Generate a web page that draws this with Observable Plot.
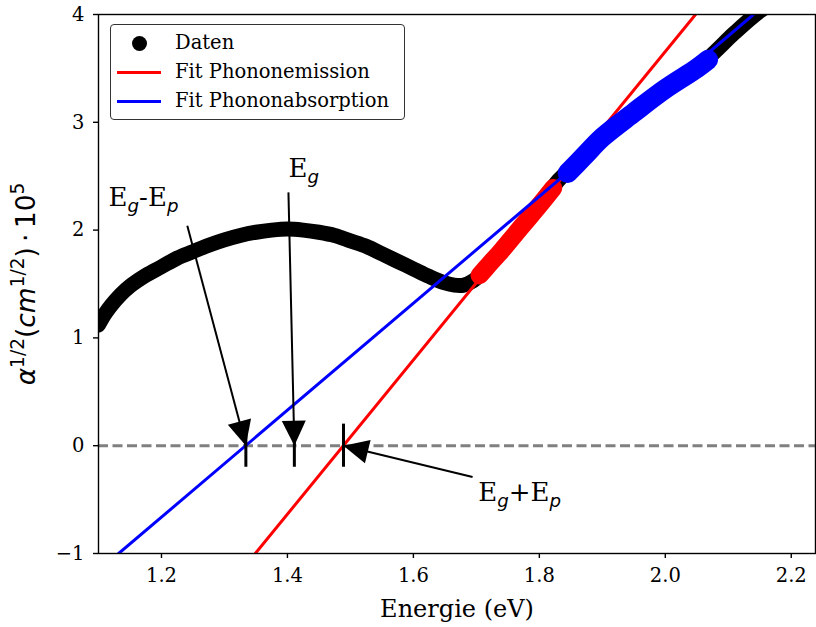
<!DOCTYPE html>
<html><head><meta charset="utf-8">
<script src="https://cdn.jsdelivr.net/npm/d3@7"></script>
<script src="https://cdn.jsdelivr.net/npm/@observablehq/plot@0.6"></script>
<style>
html,body{margin:0;padding:0;background:#fff;}
#wrap{position:relative;width:816px;height:627px;}
#legend{position:absolute;left:110px;top:24px;width:295px;height:96px;border:1.3px solid #333;border-radius:4px;background:rgba(255,255,255,0.85);box-sizing:border-box;font-family:"DejaVu Serif";font-size:19.5px;color:#000;}
#legend .row{position:absolute;left:0;height:28px;width:100%;}
#legend .sym{position:absolute;}
#legend .lab{position:absolute;left:64px;top:0;line-height:28px;white-space:nowrap;}
</style>
</head><body>
<div id="wrap"><div id="chart"></div><div id="legend"></div></div>
<script>
// ---- data ----
const energy = [1.100,1.110,1.120,1.135,1.150,1.175,1.200,1.225,1.250,1.275,1.300,1.325,1.350,1.375,1.400,1.425,1.450,1.475,1.500,1.525,1.550,1.575,1.600,1.625,1.650,1.665,1.680,1.695,1.710,1.730,1.750,1.770,1.790,1.810,1.830,1.860,1.900,1.950,2.000,2.050,2.080,2.110,2.150,2.180,2.240];
const sqrtAlpha = [1.12,1.22,1.30,1.40,1.48,1.58,1.66,1.74,1.80,1.86,1.91,1.95,1.98,2.00,2.01,2.00,1.98,1.95,1.90,1.85,1.78,1.71,1.64,1.57,1.51,1.49,1.49,1.53,1.61,1.75,1.88,2.02,2.16,2.30,2.46,2.63,2.86,3.09,3.31,3.50,3.66,3.83,4.03,4.14,4.34];
const emissionE = [1.705,1.720,1.740,1.760,1.780,1.800,1.822];
const emissionY = [1.58,1.68,1.81,1.95,2.09,2.23,2.39];
const absorptionE = [1.845,1.870,1.900,1.950,2.000,2.050,2.068];
const absorptionY = [2.53,2.68,2.86,3.09,3.31,3.50,3.58];
const fitEmissionE = [1.349, 2.048];
const fitEmissionY = [-1, 4];
const fitAbsorptionE = [1.132, 2.140];
const fitAbsorptionY = [-1, 4];
const markerE = [1.334, 1.411, 1.489];
const annLabels = ["E_g-E_p", "E_g", "E_g+E_p"];
const annTextE = [1.116, 1.4016, 1.703];
const annTextY = [2.30, 2.57, -0.44];
const annTailE = [1.241, 1.4016, 1.694];
const annTailY = [2.04, 2.35, -0.29];
const xTicks = [1.2, 1.4, 1.6, 1.8, 2.0, 2.2];
const yTicks = [-1, 0, 1, 2, 3, 4];
const xLabel = "Energie (eV)";
const yLabel = "α^{1/2}(cm^{1/2})\u2009·\u200910^{5}";
const legendLabels = ["Daten", "Fit Phononemission", "Fit Phononabsorption"];

// ---- layout ----
const W = 816, H = 627, mL = 98, mR = 1, mT = 14, mB = 74;
const xDomain = [1.1, 2.2385], yDomain = [-1, 4];
const xs = d3.scaleLinear(xDomain, [mL, W - mR]);
const ys = d3.scaleLinear(yDomain, [H - mB, mT]);

const table = (xa, ya) => xa.map((x, i) => ({x, y: ya[i]}));
const data = table(energy, sqrtAlpha);
const emis = table(emissionE, emissionY);
const abso = table(absorptionE, absorptionY);
const fitE = table(fitEmissionE, fitEmissionY);
const fitA = table(fitAbsorptionE, fitAbsorptionY);
const ann = annLabels.map((label, i) => {
  const dx = xs(markerE[i]) - xs(annTailE[i]);
  const dy = ys(0) - ys(annTailY[i]);
  return {label, tx: annTextE[i], ty: annTextY[i], x1: annTailE[i], y1: annTailY[i], x2: markerE[i], y2: 0,
          angle: Math.atan2(-dx, dy) * 180 / Math.PI};
});
const headSymbol = {draw(ctx) { ctx.moveTo(0, 0); ctx.lineTo(-12, -25); ctx.lineTo(12, -25); ctx.closePath(); }};

const plot = Plot.plot({
  width: W, height: H,
  marginLeft: mL, marginRight: mR, marginTop: mT, marginBottom: mB,
  style: {fontFamily: "DejaVu Serif", fontSize: "19.5px", color: "black", background: "white"},
  x: {domain: xDomain},
  y: {domain: yDomain},
  marks: [
    Plot.line(data, {x: "x", y: "y", stroke: "black", strokeWidth: 15, strokeLinecap: "round", strokeLinejoin: "round", curve: "catmull-rom", clip: true}),
    Plot.line(emis, {x: "x", y: "y", stroke: "#ff0000", strokeWidth: 18, strokeLinecap: "round", strokeLinejoin: "round", curve: "catmull-rom", clip: true}),
    Plot.ruleY([0], {stroke: "gray", strokeWidth: 3, strokeDasharray: "10,4.5"}),
    Plot.line(fitE, {x: "x", y: "y", stroke: "#ff0000", strokeWidth: 3, clip: true}),
    Plot.line(abso, {x: "x", y: "y", stroke: "#0000ff", strokeWidth: 20, strokeLinecap: "round", strokeLinejoin: "round", curve: "catmull-rom", clip: true}),
    Plot.line(fitA, {x: "x", y: "y", stroke: "#0000ff", strokeWidth: 3, clip: true}),
    Plot.ruleX(markerE, {y1: -0.2, y2: 0.2, stroke: "black", strokeWidth: 3}),
    Plot.link(ann, {x1: "x1", y1: "y1", x2: "x2", y2: "y2", stroke: "black", strokeWidth: 2}),
    Plot.dot(ann, {x: "x2", y: "y2", symbol: headSymbol, rotate: "angle", fill: "black", stroke: "none"}),
    Plot.text(ann, {x: "tx", y: "ty", text: "label", textAnchor: "start", fontSize: 26, fill: "black"}),
    Plot.frame({stroke: "black", strokeWidth: 1.4}),
    Plot.axisX({ticks: xTicks, tickFormat: d3.format(".1f"), tickSize: 5, tickPadding: 10, fontSize: 19.5,
      label: xLabel, labelAnchor: "center", labelOffset: 63, labelArrow: "none", strokeWidth: 1.4}),
    Plot.axisY({ticks: yTicks, tickFormat: d3.format("d"), tickSize: 5, tickPadding: 9, fontSize: 19.5,
      label: yLabel, labelAnchor: "center", labelOffset: 82, labelArrow: "none", strokeWidth: 1.4})
  ]
});
document.getElementById("chart").appendChild(plot);

// ---- rich text (sub/superscripts) ----
const NS = "http://www.w3.org/2000/svg";
function setRich(el, str, base, mathAll) {
  el.textContent = "";
  const re = /([_^])\{([^}]*)\}|([_^])(.)|([^_^]+)/g;
  let m, cur = 0;
  while ((m = re.exec(str))) {
    let kind, txt;
    if (m[1]) { kind = m[1]; txt = m[2]; } else if (m[3]) { kind = m[3]; txt = m[4]; } else { kind = ""; txt = m[5]; }
    let off = 0, size = base;
    if (kind === "_") { off = 0.22 * base; size = 0.7 * base; }
    if (kind === "^") { off = -0.42 * base; size = 0.7 * base; }
    const math = mathAll || kind !== "";
    const runs = txt.match(/[A-Za-zα-ω]+|[^A-Za-zα-ω]+/g) || [];
    runs.forEach((r, j) => {
      const ts = document.createElementNS(NS, "tspan");
      if (j === 0) { ts.setAttribute("dy", off - cur); }
      ts.setAttribute("font-size", size);
      if (math) {
        ts.setAttribute("font-family", "DejaVu Sans");
        if (/[A-Za-zα-ω]/.test(r)) ts.setAttribute("font-style", "italic");
      }
      ts.textContent = r;
      el.appendChild(ts);
    });
    cur = off;
  }
}
plot.querySelectorAll("text").forEach(t => {
  const s = t.textContent;
  if (annLabels.includes(s)) setRich(t, s, 26, false);
  if (s === yLabel) { t.setAttribute("font-family", "DejaVu Sans"); t.setAttribute("font-size", 26.5); setRich(t, s, 26.5, true); }
  if (s === xLabel) { t.setAttribute("font-size", 24); }
});

// ---- legend ----
const lg = document.getElementById("legend");
const rowsTop = [4, 33, 62];
legendLabels.forEach((lab, i) => {
  const row = document.createElement("div");
  row.className = "row"; row.style.top = rowsTop[i] + "px";
  const sym = document.createElement("div"); sym.className = "sym";
  if (i === 0) {
    Object.assign(sym.style, {left: "21px", top: "7px", width: "15px", height: "15px", borderRadius: "50%", background: "black"});
  } else {
    Object.assign(sym.style, {left: "6px", top: "12.5px", width: "44px", height: "3px", background: i === 1 ? "#ff0000" : "#0000ff"});
  }
  const t = document.createElement("div"); t.className = "lab"; t.textContent = lab;
  row.appendChild(sym); row.appendChild(t); lg.appendChild(row);
});
</script>
</body></html>
